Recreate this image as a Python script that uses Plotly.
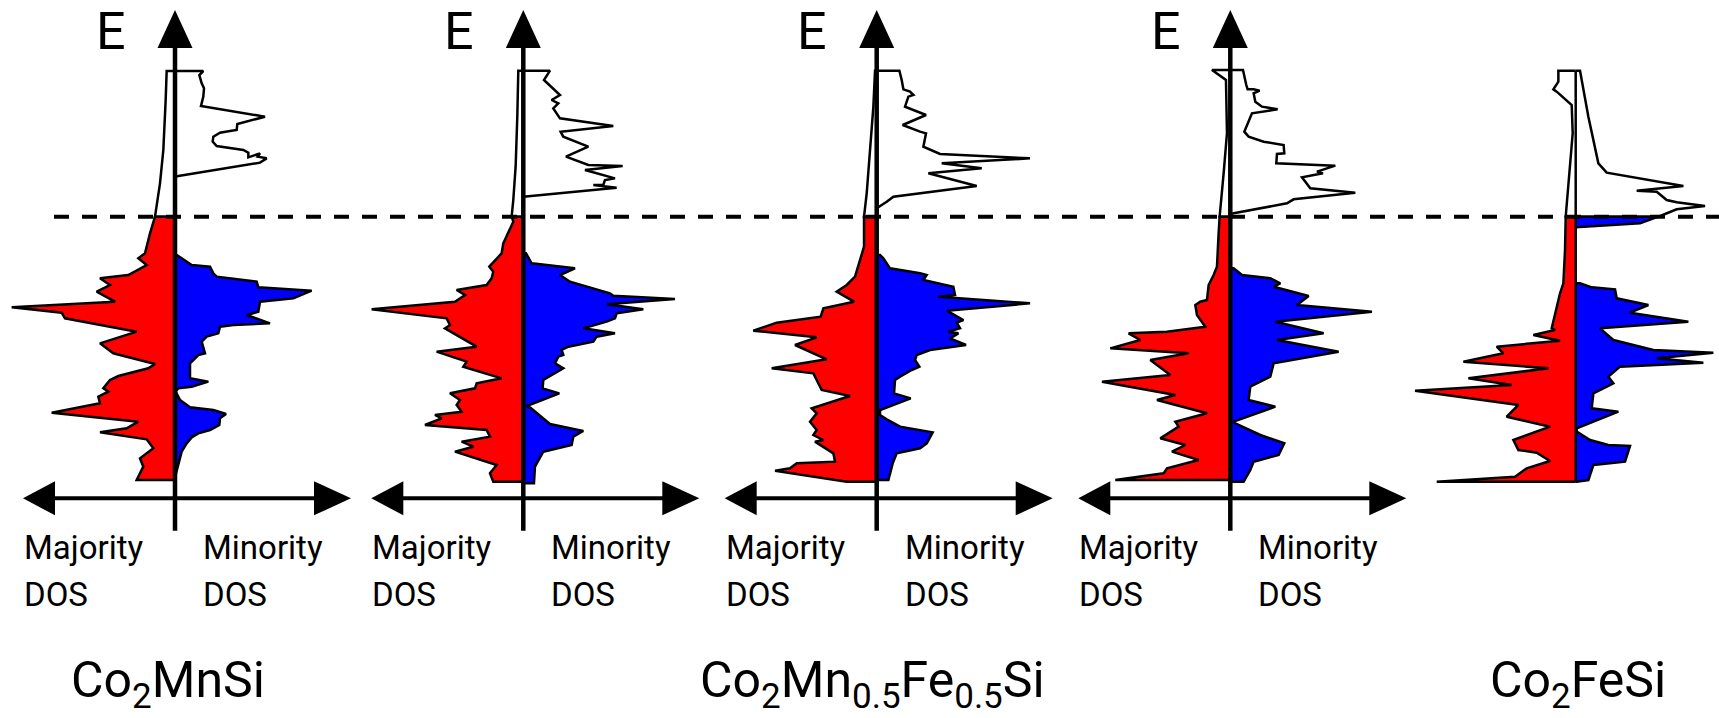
import plotly.graph_objects as go

# ---------------- data (energy a.u., E_F = 0 ; DOS a.u.) ----------------
# each list holds (energy, dos) pairs
p1_maj_up = [(43.7,2.5),(35.0,2.8),(20.0,3.5),(10.0,4.5),(1.0,5.7),(0.0,6.0)]
p1_maj_dn = [(0.0,6.0),(-5.0,7.5),(-9.5,8.5),(-11.0,9.0),(-12.5,11.0),(-14.5,8.5),(-17.5,14.0),(-18.5,22.5),
             (-20.5,19.5),(-22.5,23.5),(-25.5,18.0),(-27.2,49.0),(-28.8,34.0),(-30.5,33.0),(-34.5,11.5),
             (-38.0,22.5),(-41.0,18.5),(-44.2,6.0),(-45.5,8.0),(-47.8,17.0),(-49.0,19.5),(-51.5,21.5),
             (-52.5,20.0),(-54.0,23.0),(-56.0,22.5),(-58.8,37.0),(-61.5,11.0),(-63.5,14.5),(-64.7,22.5),
             (-66.8,8.5),(-69.5,6.5),(-71.5,9.0),(-72.5,10.5),(-75.0,9.5),(-79.0,11.5)]
p1_min_up = [(43.7,8.5),(42.5,7.3),(40.0,8.0),(38.5,8.7),(36.0,8.5),(33.2,7.8),(30.0,27.0),(27.8,18.7),
             (26.0,18.5),(25.7,16.5),(25.2,13.5),(24.0,11.5),(22.5,11.3),(21.2,12.5),(20.0,20.5),(19.2,22.0),
             (17.8,22.0),(19.0,25.5),(18.0,24.8),(17.5,27.5),(16.2,25.5),(12.2,1.0),(12.0,0.0)]
p1_min_dn = [(-11.5,0.5),(-12.5,2.0),(-14.5,5.0),(-15.0,10.5),(-17.0,11.5),(-18.0,12.5),(-19.5,24.5),
             (-21.2,25.0),(-22.2,41.0),(-24.5,35.5),(-25.5,25.5),(-28.5,25.0),(-29.5,21.5),(-32.0,28.5),
             (-32.5,17.5),(-33.0,13.5),(-35.0,13.0),(-36.0,9.5),(-37.5,8.0),(-41.0,9.0),(-41.5,7.0),
             (-44.0,4.5),(-48.5,4.5),(-49.5,10.0),(-51.0,5.0),(-51.5,1.0),(-52.5,0.2),(-55.0,1.5),
             (-57.2,4.5),(-58.0,11.5),(-59.2,15.3),(-60.5,13.5),(-62.5,13.3),(-64.0,10.5),(-65.0,7.0),
             (-66.2,5.0),(-68.0,3.5),(-70.5,2.0),(-74.0,1.0),(-77.0,0.3),(-79.0,0.0)]

p2_maj_up = [(43.8,1.5),(30.0,1.8),(15.0,2.3),(5.0,3.0),(0.0,3.5)]
p2_maj_dn = [(0.0,3.5),(-1.5,3.0),(-5.0,4.5),(-8.0,6.0),(-11.0,6.5),(-12.5,8.0),(-15.0,10.2),(-16.5,9.0),
             (-18.5,9.5),(-20.5,11.0),(-22.0,20.0),(-23.5,17.5),(-25.5,20.5),(-27.8,45.5),(-30.5,23.0),
             (-32.5,22.0),(-33.5,23.5),(-39.0,14.0),(-40.5,26.0),(-43.5,17.0),(-45.0,18.0),(-48.5,6.5),
             (-50.0,14.0),(-51.5,14.5),(-53.0,22.0),(-55.0,19.0),(-56.5,20.0),(-58.5,18.5),(-59.5,26.5),
             (-60.5,24.5),(-62.5,29.5),(-64.0,11.0),(-66.0,10.0),(-67.5,18.5),(-69.0,15.0),(-70.5,20.5),
             (-74.5,8.0),(-77.0,10.0),(-79.5,9.0)]
p2_min_up = [(43.8,8.0),(41.0,6.2),(38.5,9.0),(36.5,11.0),(35.0,8.5),(34.0,10.5),(32.5,9.0),(29.5,11.0),
             (27.2,27.0),(25.5,11.2),(24.0,12.0),(21.0,19.5),(18.0,12.8),(16.0,18.0),(15.5,19.5),(15.2,29.8),
             (14.0,18.5),(11.5,27.5),(11.0,24.5),(9.5,24.0),(9.5,21.0),(8.7,28.0),(6.0,1.0),(6.0,0.0)]
p2_min_dn = [(-11.0,0.8),(-14.0,2.5),(-15.0,11.0),(-15.5,15.5),(-17.5,11.0),(-19.5,14.0),(-23.0,26.0),
             (-23.7,27.0),(-24.7,45.5),(-26.3,25.0),(-27.8,36.0),(-29.0,28.0),(-30.5,27.5),(-31.5,25.0),
             (-33.5,18.0),(-35.0,27.5),(-36.0,22.0),(-37.5,21.0),(-39.0,13.5),(-40.0,11.5),(-41.5,12.0),
             (-42.0,10.5),(-44.0,9.5),(-45.5,12.0),(-49.0,6.0),(-51.5,5.8),(-53.0,10.8),(-56.8,1.0),
             (-57.2,2.0),(-62.2,8.0),(-63.5,14.0),(-64.3,18.0),(-66.0,15.0),(-68.5,14.5),(-70.5,6.0),
             (-73.0,4.5),(-75.0,3.5),(-80.0,3.2)]

p3_maj_up = [(43.8,0.5),(33.0,1.0),(20.0,2.0),(7.0,3.0),(0.0,3.8)]
p3_maj_dn = [(0.0,3.8),(-9.0,3.8),(-13.0,5.0),(-18.0,6.5),(-20.5,9.0),(-22.5,12.0),(-25.5,6.8),(-27.5,16.0),
             (-30.0,16.8),(-31.8,30.0),(-34.2,37.0),(-35.0,29.5),(-36.2,18.0),(-38.5,24.5),(-42.8,15.0),
             (-45.5,31.5),(-47.0,19.0),(-52.0,16.5),(-53.8,8.0),(-57.5,19.5),(-59.0,18.0),(-61.5,20.0),
             (-64.0,18.0),(-65.5,19.0),(-67.0,16.0),(-67.5,18.5),(-71.0,13.0),(-73.5,12.5),(-74.0,24.0),
             (-75.5,26.0),(-76.2,30.5),(-79.5,9.0)]
p3_min_up = [(43.8,6.8),(41.0,7.5),(38.2,8.0),(37.5,10.0),(36.5,11.0),(36.0,9.5),(33.0,8.5),(30.5,14.8),
             (27.5,7.8),(25.5,13.0),(25.0,14.8),(21.0,14.0),(18.8,19.0),(17.5,46.0),(16.0,19.5),(14.5,31.5),
             (13.0,15.5),(9.2,30.0),(6.0,5.0),(4.5,3.0),(3.0,1.0),(2.5,0.0)]
p3_min_dn = [(-11.5,1.0),(-12.5,2.0),(-15.5,4.0),(-17.0,13.0),(-17.5,15.0),(-19.0,14.0),(-21.0,23.0),
             (-23.5,23.5),(-24.0,18.5),(-26.0,46.0),(-28.2,21.0),(-31.0,26.0),(-31.8,24.0),(-33.5,25.0),
             (-34.5,21.5),(-35.0,24.5),(-36.5,22.0),(-38.5,26.8),(-40.0,16.0),(-41.5,12.0),(-43.0,11.5),
             (-45.0,12.8),(-46.0,10.5),(-48.0,7.0),(-49.0,5.5),(-53.0,5.2),(-54.5,10.2),(-58.0,1.0),
             (-59.5,1.0),(-60.8,3.0),(-63.0,7.0),(-64.7,16.8),(-68.0,15.0),(-69.5,13.0),(-71.0,6.0),
             (-74.0,4.8),(-79.0,3.5)]

p4_maj_up = [(44.0,5.5),(41.0,1.3),(25.0,1.0),(13.0,2.0),(0.5,3.0),(0.0,3.2)]
p4_maj_dn = [(0.0,3.2),(-5.0,3.5),(-15.0,4.0),(-17.5,5.0),(-20.5,6.5),(-25.0,7.0),(-25.5,9.0),(-26.5,10.5),
             (-29.5,10.0),(-33.0,7.5),(-34.5,19.0),(-35.0,30.5),(-37.0,27.0),(-39.5,36.0),(-41.0,12.5),
             (-43.0,24.0),(-47.5,18.0),(-49.5,38.5),(-53.5,16.5),(-55.0,22.0),(-59.0,7.0),(-61.5,16.5),
             (-63.0,15.5),(-66.5,21.0),(-68.5,13.5),(-70.5,17.5),(-73.0,9.5),(-75.5,19.0),(-77.0,20.0),
             (-79.0,34.5)]
p4_min_up = [(44.0,3.8),(39.5,4.8),(38.2,5.2),(38.2,7.0),(37.8,8.8),(37.0,7.0),(34.5,7.5),(33.0,9.5),
             (32.2,14.2),(31.0,6.5),(25.5,4.2),(24.0,5.5),(22.5,10.0),(21.5,16.0),(19.0,16.2),(18.8,14.0),
             (16.0,13.8),(15.3,31.5),(13.5,26.0),(13.0,27.8),(11.8,21.5),(8.5,24.0),(7.2,37.5),(5.2,19.0),
             (4.0,17.0),(1.0,1.0),(0.8,0.0)]
p4_min_dn = [(-15.5,1.0),(-17.5,3.5),(-18.5,12.0),(-20.0,15.0),(-21.0,13.0),(-23.8,23.5),(-26.5,20.0),
             (-28.5,42.5),(-31.5,13.5),(-35.0,28.0),(-37.0,14.0),(-40.5,32.5),(-44.0,13.0),(-48.0,12.0),
             (-51.0,6.0),(-55.0,5.5),(-57.0,13.5),(-61.5,1.0),(-62.0,1.5),(-65.5,9.0),(-68.0,16.2),
             (-71.5,14.5),(-73.5,7.0),(-76.0,6.0),(-79.5,4.0)]

p5_maj_up = [(43.8,5.2),(40.5,5.2),(38.2,6.7),(37.5,5.7),(33.5,1.2),(25.0,0.9),(15.0,1.7),(5.0,2.7),(0.0,3.0)]
p5_maj_dn = [(0.0,3.0),(-10.0,3.2),(-20.0,3.7),(-23.0,4.7),(-27.0,5.7),(-31.5,6.7),(-33.5,7.2),(-34.0,6.2),
             (-35.5,12.7),(-37.2,4.7),(-39.0,23.7),(-41.0,21.7),(-43.5,33.7),(-45.5,8.2),(-48.5,32.2),
             (-50.5,19.2),(-52.2,48.2),(-56.5,17.2),(-60.0,20.7),(-63.0,7.7),(-67.0,18.7),(-70.0,17.2),
             (-70.8,11.7),(-73.3,7.7),(-75.5,14.7),(-78.0,18.2),(-79.5,41.7)]
p5_min_up = [(43.8,1.3),(30.0,3.8),(16.0,6.8),(13.2,9.3),(9.2,32.3),(7.8,18.3),(7.5,24.3),(5.0,27.3),
             (4.3,30.3),(3.2,38.8),(2.2,30.3),(0.0,24.8)]
p5_min_ef = [(0.0,24.8),(-2.0,19.3),(-3.2,1.3),(-3.2,0.0)]
p5_min_dn = [(-20.0,1.3),(-21.2,4.8),(-21.8,11.8),(-24.5,12.3),(-26.5,21.8),(-28.8,16.3),(-31.5,33.8),
             (-33.5,7.3),(-37.0,11.3),(-40.0,23.3),(-40.8,41.3),(-42.5,24.3),(-43.8,38.3),(-45.0,13.3),
             (-48.0,9.8),(-50.0,11.3),(-53.0,5.3),(-57.5,4.8),(-58.5,12.8),(-63.5,0.3),(-64.5,0.3),
             (-67.0,4.3),(-68.5,9.8),(-68.8,16.3),(-73.5,14.8),(-74.5,5.3),(-79.0,3.8),(-79.5,0.3)]

compounds = ["Co<sub>2</sub>MnSi", "Co<sub>2</sub>Mn<sub>0.5</sub>Fe<sub>0.5</sub>Si", "Co<sub>2</sub>FeSi"]
axis_labels = ["Majority", "Minority", "DOS", "E"]

RED, BLUE, WHITE = "#FF0000", "#0000FF", "#FFFFFF"
panels = [
    [(p1_maj_up, -1, WHITE), (p1_maj_dn, -1, RED), (p1_min_up, 1, WHITE), (p1_min_dn, 1, BLUE)],
    [(p2_maj_up, -1, WHITE), (p2_maj_dn, -1, RED), (p2_min_up, 1, WHITE), (p2_min_dn, 1, BLUE)],
    [(p3_maj_up, -1, WHITE), (p3_maj_dn, -1, RED), (p3_min_up, 1, WHITE), (p3_min_dn, 1, BLUE)],
    [(p4_maj_up, -1, WHITE), (p4_maj_dn, -1, RED), (p4_min_up, 1, WHITE), (p4_min_dn, 1, BLUE)],
    [(p5_maj_up, -1, WHITE), (p5_maj_dn, -1, RED), (p5_min_up, 1, WHITE), (p5_min_ef, 1, BLUE),
     (p5_min_dn, 1, BLUE)],
]

# ---------------- layout geometry ----------------
W, H = 1719, 718
PXU = 10 / 3            # pixels per a.u.
EF_PX = 650 / 3         # Fermi level position from top
AXIS_PX = [175.0, 523.3, 876.7, 1230.3, 1575.7]
FONT = "Roboto"

fig = go.Figure()
shapes, annotations = [], []
layout_axes = {}

for k, curves in enumerate(panels):
    xa = "x" if k == 0 else f"x{k+1}"
    for pairs, side, color in curves:
        E = [p[0] for p in pairs]
        D = [side * p[1] for p in pairs]
        fig.add_trace(go.Scatter(
            x=[0] + D + [0], y=[E[0]] + E + [E[-1]],
            mode="lines", fill="toself", fillcolor=color,
            line=dict(color="black", width=2.5),
            xaxis=xa, yaxis="y", hoverinfo="skip", showlegend=False))

    left = AXIS_PX[k] - 168
    right = min(AXIS_PX[k] + 180, W)
    layout_axes["xaxis" if k == 0 else f"xaxis{k+1}"] = dict(
        domain=[left / W, right / W],
        range=[(left - AXIS_PX[k]) / PXU, (right - AXIS_PX[k]) / PXU],
        visible=False, anchor="y", fixedrange=True)

    if k < 4:
        # energy axis with arrow head
        shapes.append(dict(type="line", xref=xa, yref="y", x0=0, x1=0, y0=-94.2, y1=51,
                           line=dict(color="black", width=4.5), layer="above"))
        shapes.append(dict(type="path", xref=xa, yref="y", path="M -5.25,50.6 L 5.25,50.6 L 0,62 Z",
                           fillcolor="black", line=dict(width=0), layer="above"))
        # DOS double arrow
        shapes.append(dict(type="line", xref=xa, yref="y", x0=-37, x1=42.5, y0=-84.5, y1=-84.5,
                           line=dict(color="black", width=4), layer="above"))
        shapes.append(dict(type="path", xref=xa, yref="y",
                           path="M -36,-79.4 L -36,-89.6 L -45.6,-84.5 Z",
                           fillcolor="black", line=dict(width=0), layer="above"))
        shapes.append(dict(type="path", xref=xa, yref="y",
                           path="M 41.7,-79.4 L 41.7,-89.6 L 52.8,-84.5 Z",
                           fillcolor="black", line=dict(width=0), layer="above"))
        annotations.append(dict(xref=xa, yref="paper", x=-19.35, y=1.0, text=axis_labels[3],
                                showarrow=False, xanchor="center", yanchor="top", borderpad=0,
                                font=dict(family=FONT, size=52, color="black")))
        for txt, xx, yy in [(axis_labels[0], -45.9, -99.3), (axis_labels[2], -45.9, -113.2),
                            (axis_labels[1], 7.8, -99.3), (axis_labels[2], 7.8, -113.2)]:
            annotations.append(dict(xref=xa, yref="y", x=xx, y=yy, text=txt, showarrow=False,
                                    xanchor="left", yanchor="middle",
                                    font=dict(family=FONT, size=33, color="black")))
    else:
        shapes.append(dict(type="line", xref=xa, yref="y", x0=0, x1=0, y0=-79.5, y1=43.8,
                           line=dict(color="black", width=2.5), layer="above"))

# Fermi level
shapes.append(dict(type="line", xref="paper", yref="y", x0=54 / W, x1=1, y0=0, y1=0,
                   line=dict(color="black", width=4, dash="15px,13px"), layer="above"))

# compound names
for txt, xpx in zip(compounds, [70, 699, 1489]):
    annotations.append(dict(xref="paper", yref="paper", x=xpx / W, y=0.0, text=txt,
                            showarrow=False, xanchor="left", yanchor="bottom", borderpad=0,
                            font=dict(family=FONT, size=50, color="black")))

fig.update_layout(
    width=W, height=H, margin=dict(l=0, r=0, t=0, b=0),
    paper_bgcolor="white", plot_bgcolor="white",
    yaxis=dict(domain=[0, 1], range=[-(H - EF_PX) / PXU, EF_PX / PXU], visible=False,
               anchor="x", fixedrange=True),
    shapes=shapes, annotations=annotations, showlegend=False,
    **layout_axes)

fig.write_html("out.html")
